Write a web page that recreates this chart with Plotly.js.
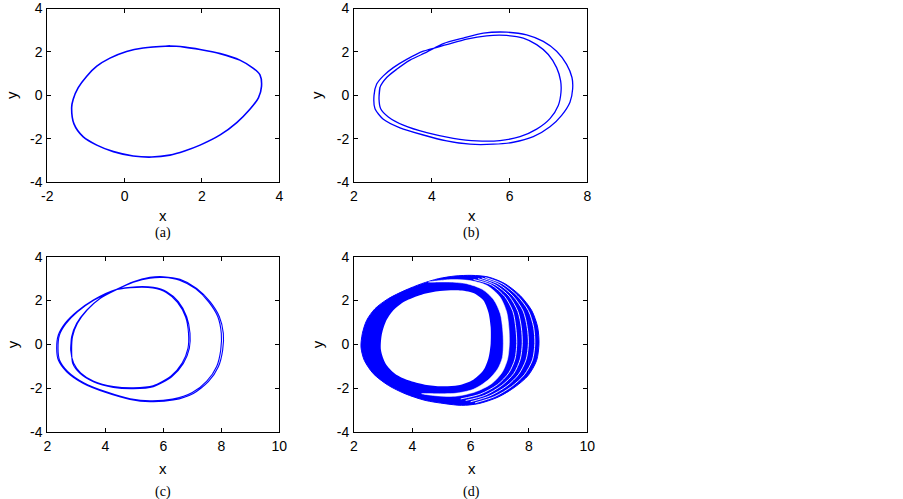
<!DOCTYPE html>
<html><head><meta charset="utf-8">
<script src="https://cdn.plot.ly/plotly-3.0.1.min.js"></script>
<style>html,body{margin:0;padding:0;background:#fff;} #chart{width:903px;height:499px;}</style>
</head><body><div id="chart"></div>
<script>
// ---------- data ----------
// (a) period-1 limit cycle
const aX = [1.17, 0.48, 0.05, -0.38, -0.72, -0.98, -1.20, -1.33, -1.37, -1.31, -1.07, -0.72, -0.29, 0.22, 0.70, 1.17, 1.55, 1.95, 2.47, 2.90, 3.24, 3.46, 3.54, 3.50, 3.33, 2.98, 2.47, 1.95, 1.55];
const aY = [2.27, 2.18, 2.02, 1.71, 1.34, 0.88, 0.35, -0.18, -0.56, -1.32, -1.92, -2.30, -2.60, -2.80, -2.85, -2.76, -2.57, -2.30, -1.83, -1.26, -0.65, -0.12, 0.41, 0.94, 1.24, 1.62, 1.92, 2.11, 2.22];

// (b) period-2 orbit: two successive turns
const bTurn1X = [2.643, 2.669, 2.840, 3.097, 3.440, 3.869, 4.297, 4.811, 5.326, 5.926, 6.440, 6.868, 7.211, 7.468, 7.606, 7.623, 7.554, 7.340, 7.040, 6.611, 6.097, 5.583, 4.983, 4.383, 3.783, 3.183, 2.754, 2.540, 2.514];
const bTurn1Y = [-0.167, 0.364, 0.818, 1.197, 1.621, 1.985, 2.379, 2.636, 2.864, 2.909, 2.788, 2.485, 2.030, 1.424, 0.818, 0.288, -0.318, -0.924, -1.455, -1.909, -2.167, -2.258, -2.258, -2.106, -1.833, -1.500, -1.106, -0.621, -0.015];
const bTurn2X = [2.583, 2.754, 3.011, 3.354, 3.783, 4.383, 4.897, 5.411, 5.926, 6.354, 6.697, 6.997, 7.211, 7.314, 7.323, 7.254, 7.040, 6.697, 6.269, 5.754, 5.154, 4.554, 3.869, 3.269, 2.883, 2.686];
const bTurn2Y = [0.515, 0.894, 1.273, 1.652, 2.030, 2.333, 2.591, 2.742, 2.758, 2.636, 2.333, 1.879, 1.273, 0.667, 0.136, -0.470, -1.076, -1.561, -1.909, -2.091, -2.106, -1.985, -1.727, -1.379, -1.000, -0.621];

// (c) period-4 orbit: four successive turns
const cTurn1X = [2.806, 2.840, 3.013, 3.357, 3.817, 4.392, 4.967, 5.541, 6.001, 6.576, 7.151, 7.611, 7.933, 8.070, 8.047, 7.898, 7.553, 7.036, 6.346, 5.541, 4.852, 4.047, 3.243, 2.668, 2.380, 2.323];
const cTurn1Y = [-0.260, 0.349, 0.957, 1.566, 2.099, 2.510, 2.860, 3.058, 3.088, 2.967, 2.556, 1.947, 1.262, 0.501, -0.260, -1.021, -1.706, -2.239, -2.543, -2.619, -2.513, -2.208, -1.782, -1.250, -0.717, -0.184];
const cTurn2X = [2.380, 2.610, 3.013, 3.588, 4.392, 5.082, 5.656, 6.116, 6.519, 6.806, 6.921, 6.898, 6.691, 6.289, 5.656, 4.967, 4.277, 3.588, 3.128, 2.875];
const cTurn2Y = [0.425, 0.957, 1.490, 2.023, 2.510, 2.632, 2.601, 2.403, 1.947, 1.262, 0.501, -0.184, -0.869, -1.478, -1.935, -2.026, -1.965, -1.706, -1.326, -0.869];
const cTurn3X = [2.84, 2.87, 3.04, 3.38, 3.83, 4.40, 4.97, 5.54, 6.00, 6.56, 7.12, 7.57, 7.88, 8.00, 7.98, 7.84, 7.50, 7.00, 6.32, 5.54, 4.86, 4.06, 3.27, 2.70, 2.42, 2.37];
const cTurn3Y = [-0.26, 0.35, 0.96, 1.57, 2.10, 2.50, 2.83, 3.02, 3.05, 2.93, 2.53, 1.93, 1.26, 0.50, -0.26, -1.01, -1.68, -2.20, -2.50, -2.58, -2.48, -2.18, -1.76, -1.23, -0.71, -0.18];
const cTurn4X = [2.42, 2.65, 3.04, 3.60, 4.40, 5.08, 5.64, 6.10, 6.49, 6.77, 6.87, 6.85, 6.65, 6.26, 5.65, 4.97, 4.28, 3.60, 3.15, 2.91];
const cTurn4Y = [0.42, 0.95, 1.48, 2.01, 2.50, 2.60, 2.57, 2.37, 1.92, 1.25, 0.50, -0.18, -0.85, -1.45, -1.89, -1.98, -1.92, -1.68, -1.30, -0.86];

// (d) chaotic band: outer edge, inner hole, white gap and white stripes
const dOuterX = [2.240, 2.286, 2.434, 2.720, 3.177, 3.749, 4.320, 4.891, 5.463, 6.034, 6.606, 7.177, 7.691, 8.091, 8.297, 8.343, 8.263, 7.977, 7.520, 6.949, 6.263, 5.691, 5.120, 4.434, 3.749, 3.177, 2.663, 2.354, 2.240];
const dOuterY = [-0.122, 0.487, 1.095, 1.627, 2.084, 2.464, 2.768, 2.996, 3.118, 3.148, 3.072, 2.768, 2.236, 1.551, 0.791, 0.030, -0.730, -1.414, -1.947, -2.403, -2.707, -2.783, -2.707, -2.555, -2.251, -1.871, -1.338, -0.730, -0.122];
const dHoleX = [2.926, 2.949, 3.086, 3.349, 3.749, 4.320, 4.949, 5.577, 6.091, 6.434, 6.606, 6.686, 6.686, 6.606, 6.434, 6.091, 5.577, 5.006, 4.434, 3.863, 3.406, 3.086, 2.926];
const dHoleY = [-0.274, 0.411, 1.019, 1.551, 1.962, 2.266, 2.433, 2.464, 2.342, 2.008, 1.475, 0.791, 0.030, -0.654, -1.186, -1.612, -1.871, -1.916, -1.840, -1.643, -1.338, -0.882, -0.274];
const dGapX = [4.549, 5.234, 5.920, 6.549, 7.006, 7.234, 7.314, 7.326, 7.269, 7.086, 6.720, 6.149, 5.463, 4.777, 4.320, 4.777, 5.463, 6.091, 6.583, 6.926, 7.086, 7.120, 7.097, 7.017, 6.789, 6.400, 5.863, 5.234, 4.549];
const dGapY = [2.844, 2.951, 2.920, 2.692, 2.160, 1.475, 0.715, 0.030, -0.654, -1.262, -1.795, -2.175, -2.373, -2.342, -2.251, -2.251, -2.236, -2.053, -1.643, -1.125, -0.608, 0.030, 0.715, 1.399, 2.038, 2.510, 2.768, 2.844, 2.844];
const dStripe1X = [6.10, 6.71, 7.17, 7.45, 7.55, 7.58, 7.52, 7.31, 6.92, 6.33, 5.66];
const dStripe1Y = [2.96, 2.71, 2.18, 1.49, 0.74, 0.03, -0.67, -1.30, -1.84, -2.27, -2.49];
const dStripe2X = [6.25, 6.84, 7.32, 7.62, 7.74, 7.77, 7.70, 7.48, 7.07, 6.48, 5.83];
const dStripe2Y = [3.00, 2.72, 2.20, 1.50, 0.75, 0.03, -0.68, -1.33, -1.87, -2.33, -2.56];
const dStripe3X = [6.38, 6.97, 7.45, 7.80, 7.94, 7.98, 7.90, 7.65, 7.24, 6.66, 6.00];
const dStripe3Y = [3.03, 2.74, 2.21, 1.52, 0.77, 0.03, -0.70, -1.36, -1.90, -2.35, -2.62];
const dStripe4X = [6.50, 7.09, 7.60, 7.98, 8.16, 8.20, 8.12, 7.84, 7.40, 6.83, 6.15];
const dStripe4Y = [3.05, 2.76, 2.22, 1.54, 0.78, 0.03, -0.71, -1.39, -1.93, -2.38, -2.67];

// axes ranges and ticks
const yTickVals = [-4, -2, 0, 2, 4];
const yTickText = ['-4', '-2', '0', '2', '4'];
const xTickValsA = [-2, 0, 2, 4];
const xTickTextA = ['-2', '0', '2', '4'];
const xTickValsB = [2, 4, 6, 8];
const xTickTextB = ['2', '4', '6', '8'];
const xTickValsCD = [2, 4, 6, 8, 10];
const xTickTextCD = ['2', '4', '6', '8', '10'];
const panelLabels = ['(a)', '(b)', '(c)', '(d)'];

// ---------- build ----------
const BLUE = '#0000ff';
const W = 903, H = 499;
const px = v => v / W;
const py = v => 1 - v / H;

function closedLoop(arr) { return arr.concat([arr[0], arr[1]]); }

const traces = [];
traces.push({x: closedLoop(aX), y: closedLoop(aY), xaxis: 'x', yaxis: 'y', mode: 'lines',
  line: {color: BLUE, width: 1.6, shape: 'spline', smoothing: 0.9}});
traces.push({x: bTurn1X.concat(bTurn2X, [bTurn1X[0], bTurn1X[1]]), y: bTurn1Y.concat(bTurn2Y, [bTurn1Y[0], bTurn1Y[1]]),
  xaxis: 'x2', yaxis: 'y2', mode: 'lines', line: {color: BLUE, width: 1.3, shape: 'spline', smoothing: 0.7}});
traces.push({x: cTurn1X.concat(cTurn2X, cTurn3X, cTurn4X, [cTurn1X[0], cTurn1X[1]]),
  y: cTurn1Y.concat(cTurn2Y, cTurn3Y, cTurn4Y, [cTurn1Y[0], cTurn1Y[1]]),
  xaxis: 'x3', yaxis: 'y3', mode: 'lines', line: {color: BLUE, width: 1.1, shape: 'spline', smoothing: 0.7}});
traces.push({x: dOuterX, y: dOuterY, xaxis: 'x4', yaxis: 'y4', mode: 'lines', fill: 'toself',
  fillcolor: BLUE, line: {color: BLUE, width: 1, shape: 'spline', smoothing: 0.8}});
[[dStripe1X, dStripe1Y], [dStripe2X, dStripe2Y], [dStripe3X, dStripe3Y], [dStripe4X, dStripe4Y]].forEach(s => {
  traces.push({x: s[0], y: s[1], xaxis: 'x4', yaxis: 'y4', mode: 'lines',
    line: {color: '#ffffff', width: 0.9, shape: 'spline', smoothing: 0.8}});
});
traces.push({x: dGapX, y: dGapY, xaxis: 'x4', yaxis: 'y4', mode: 'lines', fill: 'toself',
  fillcolor: '#ffffff', line: {color: '#ffffff', width: 0.5, shape: 'spline', smoothing: 0.8}});
traces.push({x: dHoleX, y: dHoleY, xaxis: 'x4', yaxis: 'y4', mode: 'lines', fill: 'toself',
  fillcolor: '#ffffff', line: {color: '#ffffff', width: 0, shape: 'spline', smoothing: 0.8}});
traces.forEach(t => { t.showlegend = false; t.hoverinfo = 'skip'; });

const tickFont = {family: 'Liberation Sans, Arial, sans-serif', size: 14, color: '#000'};
function axis(domain, range, vals, text, anchor) {
  return {domain: domain, range: range, tickmode: 'array', tickvals: vals, ticktext: text,
    showline: true, mirror: 'ticks', linecolor: '#000', linewidth: 1, ticks: 'inside', ticklen: 4,
    tickwidth: 1, tickcolor: '#000', showgrid: false, zeroline: false, fixedrange: true,
    tickfont: tickFont, anchor: anchor, ticklabelstandoff: 1, ticklabeloverflow: 'allow'};
}
const colA = [px(47.3), px(279.3)], colB = [px(354), px(587.3)];
const rowTop = [py(182), py(8.5)], rowBot = [py(432), py(256.7)];

const layout = {
  width: W, height: H, margin: {l: 0, r: 0, t: 0, b: 0}, paper_bgcolor: '#fff', plot_bgcolor: '#fff',
  xaxis: axis(colA, [-2, 4], xTickValsA, xTickTextA, 'y'),
  yaxis: axis(rowTop, [-4, 4], yTickVals, yTickText, 'x'),
  xaxis2: axis(colB, [2, 8], xTickValsB, xTickTextB, 'y2'),
  yaxis2: axis(rowTop, [-4, 4], yTickVals, yTickText, 'x2'),
  xaxis3: axis(colA, [2, 10], xTickValsCD, xTickTextCD, 'y3'),
  yaxis3: axis(rowBot, [-4, 4], yTickVals, yTickText, 'x3'),
  xaxis4: axis(colB, [2, 10], xTickValsCD, xTickTextCD, 'y4'),
  yaxis4: axis(rowBot, [-4, 4], yTickVals, yTickText, 'x4'),
  annotations: []
};
const titleFont = {family: 'Liberation Sans, Arial, sans-serif', size: 15, color: '#000'};
const labFont = {family: 'Liberation Serif, Times New Roman, serif', size: 14, color: '#000'};
const panels = [
  {cx: 163.3, xt: 215.3, yx: 12, yy: 95, lab: 233.3},
  {cx: 472, xt: 215.3, yx: 317, yy: 95, lab: 233.3},
  {cx: 163.3, xt: 468.3, yx: 12, yy: 344.3, lab: 491.5},
  {cx: 472, xt: 468.3, yx: 317, yy: 344.3, lab: 491.5}
];
panels.forEach((p, i) => {
  layout.annotations.push({text: 'x', xref: 'paper', yref: 'paper', x: px(p.cx), y: py(p.xt),
    xanchor: 'center', yanchor: 'middle', showarrow: false, font: titleFont});
  layout.annotations.push({text: 'y', xref: 'paper', yref: 'paper', x: px(p.yx), y: py(p.yy),
    xanchor: 'center', yanchor: 'middle', showarrow: false, font: titleFont, textangle: -90});
  layout.annotations.push({text: panelLabels[i], xref: 'paper', yref: 'paper', x: px(p.cx), y: py(p.lab),
    xanchor: 'center', yanchor: 'middle', showarrow: false, font: labFont});
});

Plotly.newPlot('chart', traces, layout, {staticPlot: true, displayModeBar: false});
</script></body></html>
